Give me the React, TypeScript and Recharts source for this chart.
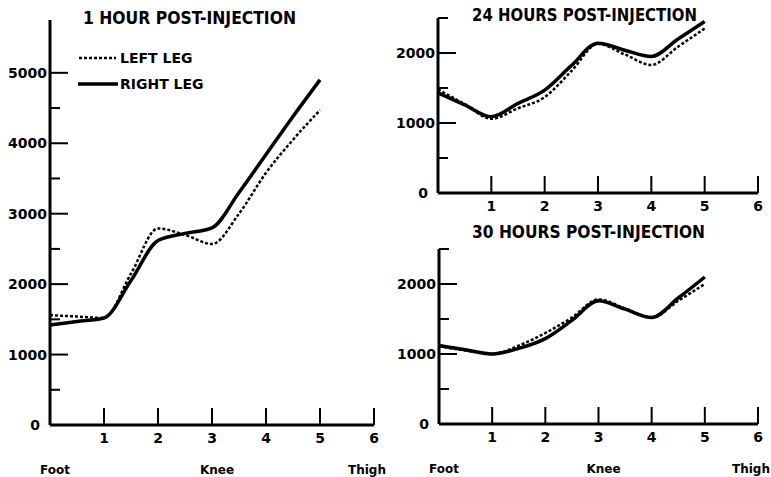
import { LineChart, Line, XAxis, YAxis, Legend } from "recharts";

// positions along the leg, 0 = foot, 3 = knee, 6 = thigh
const positions = [0, 0.5, 1, 1.5, 2, 2.5, 3, 3.5, 4, 4.5, 5];

// 1 hour post-injection
const hour1Left = [1560, 1540, 1520, 2150, 2790, 2700, 2570, 3000, 3580, 4050, 4470];
const hour1Right = [1420, 1470, 1520, 2050, 2620, 2720, 2800, 3300, 3840, 4380, 4900];

// 24 hours post-injection
const hour24Left = [1480, 1270, 1060, 1210, 1370, 1740, 2130, 1980, 1830, 2090, 2350];
const hour24Right = [1430, 1260, 1090, 1280, 1470, 1820, 2140, 2040, 1950, 2200, 2450];

// 30 hours post-injection
const hour30Left = [1110, 1050, 1000, 1120, 1300, 1520, 1780, 1650, 1520, 1760, 2000];
const hour30Right = [1120, 1060, 1000, 1080, 1220, 1480, 1760, 1640, 1520, 1800, 2100];

const xTicks = [0, 1, 2, 3, 4, 5, 6];
const yTicksBig = [0, 500, 1000, 1500, 2000, 2500, 3000, 3500, 4000, 4500, 5000];
const yTicksSmall = [0, 500, 1000, 1500, 2000, 2500];
const legNames: Record<number, string> = { 0: "Foot", 3: "Knee", 6: "Thigh" };

const FONT = "'DejaVu Sans', sans-serif";

const build = (left: number[], right: number[]) =>
  positions.map((x, i) => ({ x, left: left[i], right: right[i] }));

const YTick = (props: any) => {
  const { x, y, payload } = props;
  const v = payload.value;
  const major = v % 1000 === 0;
  return (
    <g>
      {v !== 0 && (
        <line x1={x} x2={x + (major ? 18 : 10)} y1={y} y2={y} stroke="#000" strokeWidth={2} />
      )}
      {major && (
        <text
          x={x - (v === 0 ? 10 : 3)}
          y={y}
          dy="0.36em"
          textAnchor="end"
          fontFamily={FONT}
          fontWeight="bold"
          fontSize={14}
          fill="#000"
        >
          {v}
        </text>
      )}
    </g>
  );
};

const makeXTick = (showNames: boolean) => (props: any) => {
  const { x, y, payload } = props;
  const v = payload.value;
  const name = legNames[v];
  const nameDx = v === 0 ? 5 : v === 6 ? -7 : 5;
  return (
    <g>
      {v !== 0 && (
        <>
          <line x1={x} x2={x} y1={y} y2={y - 17} stroke="#000" strokeWidth={2} />
          <text
            x={x}
            y={y + 13}
            dy="0.36em"
            textAnchor="middle"
            fontFamily={FONT}
            fontWeight="bold"
            fontSize={14}
            fill="#000"
          >
            {v}
          </text>
        </>
      )}
      {showNames && name && (
        <text
          x={x + nameDx}
          y={y + 45}
          dy="0.36em"
          textAnchor="middle"
          fontFamily={FONT}
          fontWeight="bold"
          fontSize={12}
          fill="#000"
        >
          {name}
        </text>
      )}
    </g>
  );
};

const LegendBox = () => (
  <div style={{ fontFamily: FONT, fontWeight: "bold", fontSize: 14, lineHeight: "26px" }}>
    <div style={{ display: "flex", alignItems: "center" }}>
      <svg width={42} height={10}>
        <line x1={1} x2={38} y1={5} y2={5} stroke="#000" strokeWidth={2.5} strokeDasharray="3 2" />
      </svg>
      <span>LEFT LEG</span>
    </div>
    <div style={{ display: "flex", alignItems: "center" }}>
      <svg width={42} height={10}>
        <line x1={0} x2={40} y1={5} y2={5} stroke="#000" strokeWidth={3.5} />
      </svg>
      <span>RIGHT LEG</span>
    </div>
  </div>
);

type PanelProps = {
  data: { x: number; left: number; right: number }[];
  width: number;
  height: number;
  margin: { top: number; right: number; left: number; bottom: number };
  yWidth: number;
  xHeight: number;
  yMax: number;
  yTicks: number[];
  showNames: boolean;
  title: string;
  titleX: number;
  titleY: number;
  titleW: number;
  legend?: boolean;
};

function Panel(p: PanelProps) {
  return (
    <LineChart width={p.width} height={p.height} data={p.data} margin={p.margin} style={{ overflow: "hidden" }}>
      <text
        x={p.titleX}
        y={p.titleY}
        textLength={p.titleW}
        lengthAdjust="spacingAndGlyphs"
        fontFamily={FONT}
        fontWeight="bold"
        fontSize={17}
        fill="#000"
      >
        {p.title}
      </text>
      <XAxis
        dataKey="x"
        type="number"
        domain={[0, 6]}
        ticks={xTicks}
        height={p.xHeight}
        tickSize={0}
        tickMargin={0}
        tickLine={false}
        axisLine={{ stroke: "#000", strokeWidth: 3 }}
        tick={makeXTick(p.showNames)}
        interval={0}
      />
      <YAxis
        type="number"
        domain={[0, p.yMax]}
        ticks={p.yTicks}
        width={p.yWidth}
        tickSize={0}
        tickMargin={0}
        tickLine={false}
        axisLine={{ stroke: "#000", strokeWidth: 3 }}
        tick={YTick}
        interval={0}
        allowDataOverflow
      />
      {p.legend && (
        <Legend
          layout="horizontal"
          verticalAlign="middle"
          align="center"
          content={() => <LegendBox />}
          wrapperStyle={{ position: "absolute", left: 78, top: 45, width: 160 }}
        />
      )}
      <Line
        type="monotone"
        dataKey="left"
        name="LEFT LEG"
        stroke="#000"
        strokeWidth={2.5}
        strokeDasharray="3 2"
        dot={false}
        isAnimationActive={false}
      />
      <Line
        type="monotone"
        dataKey="right"
        name="RIGHT LEG"
        stroke="#000"
        strokeWidth={3.5}
        dot={false}
        isAnimationActive={false}
      />
    </LineChart>
  );
}

export default function App() {
  return (
    <div
      style={{
        position: "absolute",
        left: 0,
        top: 0,
        width: 771,
        height: 477,
        overflow: "hidden",
        background: "#fff",
      }}
    >
      <div style={{ position: "absolute", left: 0, top: 0 }}>
        <Panel
          data={build(hour1Left, hour1Right)}
          width={400}
          height={477}
          margin={{ top: 20, right: 26, left: 0, bottom: 0 }}
          yWidth={50}
          xHeight={52}
          yMax={5750}
          yTicks={yTicksBig}
          showNames
          title="1 HOUR POST-INJECTION"
          titleX={83}
          titleY={24}
          titleW={213}
          legend
        />
      </div>
      <div style={{ position: "absolute", left: 390, top: 0 }}>
        <Panel
          data={build(hour24Left, hour24Right)}
          width={381}
          height={225}
          margin={{ top: 18, right: 13, left: 0, bottom: 0 }}
          yWidth={48}
          xHeight={32}
          yMax={2500}
          yTicks={yTicksSmall}
          showNames={false}
          title="24 HOURS POST-INJECTION"
          titleX={82}
          titleY={21}
          titleW={225}
        />
      </div>
      <div style={{ position: "absolute", left: 390, top: 220 }}>
        <Panel
          data={build(hour30Left, hour30Right)}
          width={381}
          height={257}
          margin={{ top: 29, right: 13, left: 0, bottom: 0 }}
          yWidth={49}
          xHeight={53}
          yMax={2500}
          yTicks={yTicksSmall}
          showNames
          title="30 HOURS POST-INJECTION"
          titleX={82}
          titleY={18}
          titleW={233}
        />
      </div>
    </div>
  );
}
